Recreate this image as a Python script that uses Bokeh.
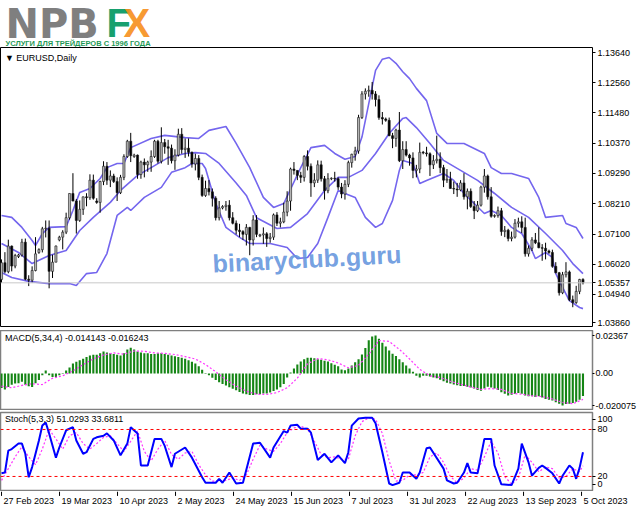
from bokeh.plotting import figure
from bokeh.layouts import column, row
from bokeh.models import FixedTicker, Range1d, Span, Label, ColumnDataSource
from bokeh.embed import file_html
from bokeh.resources import INLINE
from bokeh.core.properties import value

# ---------------- data ----------------
opens = [
1.0548,1.0608,1.0576,1.0668,1.0596,1.0630,1.0636,1.0682,1.0549,1.0545,
1.0580,1.0645,1.0655,1.0730,1.0732,1.0577,1.0610,1.0690,1.0700,1.0718,
1.0770,1.0857,1.0830,1.0760,1.0800,1.0845,1.0842,1.0905,1.0830,1.0825,
1.0900,1.0955,1.0905,1.0920,1.0900,1.0860,1.0915,1.0990,1.1045,1.0990,
1.0995,1.0925,1.0970,1.0960,1.0970,1.0990,1.1045,1.0973,1.1040,1.1025,
1.1020,1.0975,1.0995,1.1070,1.1015,1.1020,1.1005,1.0963,1.0983,1.0915,
1.0850,1.0875,1.0863,1.0840,1.0770,1.0805,1.0810,1.0815,1.0770,1.0750,
1.0725,1.0720,1.0710,1.0735,1.0690,1.0762,1.0705,1.0708,1.0712,1.0695,
1.0700,1.0780,1.0750,1.0755,1.0790,1.0830,1.0945,1.0940,1.0922,1.0915,
1.0990,1.0955,1.0895,1.0905,1.0960,1.0910,1.0867,1.0910,1.0912,1.0910,
1.0880,1.0855,1.0890,1.0968,1.0998,1.1010,1.1130,1.1215,1.1225,1.1228,
1.1215,1.1195,1.1130,1.1125,1.1120,1.1065,1.1055,1.1085,1.0975,1.1015,
1.0995,1.0985,1.0940,1.0945,1.1005,1.1003,1.1000,1.0960,1.0975,1.0980,
1.0950,1.0905,1.0908,1.0875,1.0873,1.0870,1.0895,1.0845,1.0865,1.0810,
1.0795,1.0815,1.0880,1.0920,1.0845,1.0775,1.0778,1.0795,1.0720,1.0725,
1.0695,1.0700,1.0750,1.0755,1.0735,1.0640,1.0660,1.0690,1.0680,1.0662,
1.0660,1.0650,1.0645,1.0595,1.0572,1.0500,1.0565,1.0575,1.0475,1.0465,
1.0505,1.0548]
highs = [
1.0620,1.0646,1.0691,1.0670,1.0640,1.0640,1.0694,1.0695,1.0563,1.0595,
1.0700,1.0660,1.0737,1.0760,1.0760,1.0637,1.0670,1.0705,1.0725,1.0788,
1.0857,1.0930,1.0837,1.0832,1.0846,1.0858,1.0926,1.0925,1.0840,1.0903,
1.0973,1.0970,1.0940,1.0928,1.0915,1.0924,1.0998,1.1050,1.1075,1.1000,
1.0997,1.0975,1.0983,1.0975,1.1012,1.1050,1.1050,1.1095,1.1053,1.1050,
1.1033,1.1016,1.1090,1.1092,1.1055,1.1055,1.1008,1.1000,1.0995,1.0925,
1.0903,1.0905,1.0875,1.0847,1.0830,1.0815,1.0830,1.0833,1.0790,1.0760,
1.0748,1.0725,1.0747,1.0737,1.0779,1.0779,1.0712,1.0735,1.0718,1.0715,
1.0785,1.0790,1.0770,1.0824,1.0865,1.0950,1.0970,1.0940,1.0935,1.0995,
1.1012,1.0965,1.0930,1.0976,1.0975,1.0920,1.0930,1.0915,1.0935,1.0915,
1.0895,1.0905,1.0975,1.1000,1.1025,1.1140,1.1225,1.1235,1.1245,1.1258,
1.1225,1.1210,1.1150,1.1130,1.1130,1.1075,1.1090,1.1150,1.1045,1.1045,
1.1000,1.1005,1.0960,1.1040,1.1010,1.1025,1.1005,1.0995,1.1065,1.1005,
1.0960,1.0945,1.0935,1.0900,1.0895,1.0905,1.0930,1.0875,1.0875,1.0830,
1.0830,1.0885,1.0945,1.0925,1.0880,1.0782,1.0810,1.0805,1.0740,1.0730,
1.0720,1.0765,1.0770,1.0775,1.0770,1.0670,1.0700,1.0715,1.0735,1.0675,
1.0680,1.0655,1.0655,1.0610,1.0575,1.0575,1.0610,1.0580,1.0490,1.0525,
1.0550,1.0552]
lows = [
1.0535,1.0570,1.0570,1.0577,1.0588,1.0625,1.0630,1.0545,1.0524,1.0537,
1.0577,1.0640,1.0645,1.0699,1.0516,1.0553,1.0610,1.0685,1.0656,1.0711,
1.0763,1.0829,1.0713,1.0755,1.0780,1.0811,1.0834,1.0835,1.0820,1.0788,
1.0887,1.0888,1.0880,1.0895,1.0830,1.0855,1.0905,1.0985,1.0970,1.0985,
1.0910,1.0910,1.0915,1.0935,1.0935,1.0985,1.0965,1.0965,1.1000,1.0960,
1.0965,1.0942,1.0990,1.1000,1.0985,1.0990,1.0950,1.0940,1.0905,1.0845,
1.0845,1.0850,1.0810,1.0760,1.0760,1.0800,1.0795,1.0760,1.0746,1.0710,
1.0700,1.0690,1.0670,1.0635,1.0670,1.0700,1.0700,1.0676,1.0665,1.0680,
1.0690,1.0740,1.0735,1.0750,1.0775,1.0795,1.0925,1.0905,1.0895,1.0900,
1.0940,1.0845,1.0880,1.0895,1.0900,1.0835,1.0858,1.0905,1.0900,1.0870,
1.0840,1.0835,1.0880,1.0950,1.0975,1.1000,1.1125,1.1195,1.1205,1.1195,
1.1170,1.1122,1.1105,1.1115,1.1063,1.1020,1.1025,1.0970,1.0945,1.0990,
1.0957,1.0912,1.0915,1.0930,1.0998,1.0990,1.0920,1.0945,1.0965,1.0930,
1.0880,1.0895,1.0875,1.0855,1.0845,1.0865,1.0835,1.0800,1.0805,1.0765,
1.0790,1.0810,1.0860,1.0835,1.0770,1.0770,1.0770,1.0705,1.0700,1.0685,
1.0685,1.0695,1.0735,1.0715,1.0630,1.0630,1.0650,1.0675,1.0660,1.0615,
1.0620,1.0640,1.0590,1.0570,1.0490,1.0495,1.0555,1.0470,1.0448,1.0460,
1.0495,1.0530]
closes = [
1.0608,1.0576,1.0668,1.0596,1.0634,1.0636,1.0682,1.0549,1.0545,1.0580,
1.0640,1.0655,1.0730,1.0732,1.0577,1.0610,1.0668,1.0700,1.0718,1.0770,
1.0857,1.0830,1.0760,1.0800,1.0845,1.0842,1.0905,1.0840,1.0825,1.0900,
1.0955,1.0905,1.0920,1.0900,1.0860,1.0915,1.0990,1.1045,1.0993,1.0995,
1.0925,1.0970,1.0960,1.0970,1.0990,1.1045,1.0973,1.1040,1.1025,1.1020,
1.0975,1.0995,1.1070,1.1015,1.1020,1.1005,1.0963,1.0983,1.0915,1.0850,
1.0875,1.0863,1.0840,1.0770,1.0805,1.0810,1.0815,1.0770,1.0750,1.0725,
1.0720,1.0710,1.0735,1.0690,1.0762,1.0710,1.0708,1.0712,1.0695,1.0700,
1.0780,1.0750,1.0755,1.0790,1.0830,1.0945,1.0940,1.0922,1.0915,1.0990,
1.0955,1.0895,1.0905,1.0960,1.0910,1.0867,1.0910,1.0912,1.0910,1.0880,
1.0855,1.0890,1.0968,1.0998,1.1010,1.1130,1.1215,1.1225,1.1228,1.1215,
1.1195,1.1130,1.1125,1.1120,1.1065,1.1055,1.1085,1.0975,1.1015,1.0995,
1.0985,1.0940,1.0945,1.1005,1.1003,1.1000,1.0960,1.0975,1.0980,1.0950,
1.0905,1.0908,1.0875,1.0873,1.0870,1.0895,1.0845,1.0865,1.0810,1.0795,
1.0815,1.0880,1.0920,1.0845,1.0775,1.0778,1.0795,1.0720,1.0725,1.0695,
1.0700,1.0750,1.0755,1.0735,1.0640,1.0660,1.0690,1.0680,1.0662,1.0660,
1.0650,1.0645,1.0595,1.0572,1.0500,1.0565,1.0575,1.0475,1.0465,1.0505,
1.0548,1.05357]

# Bollinger bands (bar index, price)
upper_x = [0,3,6,9,10,12,14,19,21,23,26,29,31,34,36,38,44,48,54,58,61,66,69,73,77,80,83,88,91,95,98,
           101,104,106,108,110,112,114,116,118,120,122,125,128,131,136,142,144,147,150,155,158,160,165,
           166,169,171]
upper_y = [1.0778,1.0771,1.0735,1.0688,1.0670,1.0713,1.0735,1.0738,1.0796,1.0861,1.0875,1.0911,1.0950,
           1.0965,1.0965,1.1022,1.1055,1.1066,1.1058,1.1055,1.1084,1.1098,1.1037,1.0950,1.0843,1.0807,
           1.0821,1.0950,1.1022,1.1030,1.1001,1.0980,1.0990,1.1060,1.1180,1.1300,1.1340,1.1346,1.1325,
           1.1295,1.1270,1.1235,1.1191,1.1073,1.1037,1.1037,1.1001,1.0950,1.0929,1.0929,1.0911,1.0843,
           1.0771,1.0778,1.0749,1.0735,1.0695]
middle_x = [0,5,9,14,19,23,27,32,35,40,44,49,54,57,60,64,69,72,75,81,85,90,95,99,102,106,110,114,118,
            119,122,126,130,135,140,145,150,155,160,165,168,171]
middle_y = [1.0677,1.0645,1.0605,1.0634,1.0652,1.0724,1.0771,1.0825,1.0868,1.0922,1.0950,1.0986,1.1001,
            1.1004,1.1001,1.0965,1.0895,1.0850,1.0770,1.0731,1.0735,1.0785,1.0868,1.0915,1.0915,1.0940,
            1.1001,1.1073,1.1127,1.1130,1.1094,1.1037,1.0976,1.0940,1.0904,1.0857,1.0807,1.0771,1.0713,
            1.0652,1.0605,1.0569]
lower_x = [0,3,8,14,20,22,25,28,31,34,37,38,42,47,50,54,56,59,60,63,66,70,73,79,84,87,90,93,96,99,
           101,104,107,110,112,115,117,118,121,123,125,130,133,136,139,142,144,147,150,153,156,157,160,
           162,163,165,167,170,171]
lower_y = [1.0573,1.0555,1.0541,1.0533,1.0533,1.0526,1.0569,1.0573,1.0641,1.0778,1.0807,1.0796,1.0843,
           1.0879,1.0933,1.0950,1.0965,1.0965,1.0947,1.0821,1.0735,1.0699,1.0677,1.0677,1.0663,1.0623,
           1.0627,1.0677,1.0771,1.0868,1.0857,1.0843,1.0771,1.0735,1.0749,1.0832,1.0940,1.0976,1.0965,
           1.0893,1.0904,1.0929,1.0904,1.0857,1.0821,1.0785,1.0796,1.0778,1.0735,1.0713,1.0652,1.0623,
           1.0645,1.0627,1.0569,1.0519,1.0472,1.0447,1.0443]

# MACD(5,34,4) histogram, one value per bar
macd_main = [
-0.0091,-0.0101,-0.0085,-0.0071,-0.0063,-0.0061,-0.0052,-0.0071,-0.0081,-0.0085,
-0.0061,-0.0041,-0.0012,0.0018,-0.0012,-0.0022,-0.0022,-0.0012,0.0003,0.0018,
0.0037,0.0062,0.0072,0.0082,0.0092,0.0102,0.0112,0.0117,0.0117,0.0126,
0.0136,0.0131,0.0126,0.0121,0.0117,0.0112,0.0126,0.0150,0.0160,0.0150,
0.0136,0.0131,0.0126,0.0126,0.0121,0.0121,0.0126,0.0126,0.0121,0.0117,
0.0112,0.0107,0.0102,0.0097,0.0092,0.0082,0.0072,0.0062,0.0045,0.0022,
0.0003,-0.0012,-0.0027,-0.0041,-0.0056,-0.0066,-0.0076,-0.0086,-0.0096,-0.0106,
-0.0116,-0.0125,-0.0130,-0.0135,-0.0135,-0.0130,-0.0130,-0.0125,-0.0125,-0.0120,
-0.0110,-0.0100,-0.0086,-0.0066,-0.0025,0.0005,0.0030,0.0055,0.0075,0.0089,
0.0098,0.0098,0.0094,0.0089,0.0085,0.0079,0.0074,0.0064,0.0054,0.0044,
0.0025,0.0020,0.0030,0.0049,0.0069,0.0089,0.0118,0.0158,0.0207,0.0231,
0.02367,0.0217,0.0192,0.0168,0.0143,0.0123,0.0108,0.0089,0.0069,0.0049,
0.0030,0.0010,-0.0015,-0.0025,-0.0015,-0.0015,-0.0020,-0.0025,-0.0030,-0.0040,
-0.0049,-0.0059,-0.0064,-0.0069,-0.0074,-0.0079,-0.0079,-0.0084,-0.0089,-0.0094,
-0.0104,-0.0109,-0.0094,-0.0084,-0.0089,-0.0094,-0.0104,-0.0118,-0.0128,-0.0138,
-0.0133,-0.0128,-0.0123,-0.0128,-0.0138,-0.0143,-0.0143,-0.0148,-0.0143,-0.0150,
-0.0160,-0.0165,-0.0170,-0.0180,-0.0190,-0.020075,-0.0192,-0.0190,-0.0185,-0.0178,
-0.0165,-0.014143]
macd_sig_x = [0,3,6,9,12,15,18,21,24,27,30,33,36,39,42,45,48,51,54,57,60,63,66,69,72,75,78,81,84,87,
              90,93,96,99,102,105,108,111,114,117,120,123,126,129,132,135,138,141,144,147,150,153,156,
              159,162,165,168,171]
macd_sig_y = [-0.0080,-0.0090,-0.0075,-0.0065,-0.0070,-0.0030,-0.0015,0.0015,0.0055,0.0090,0.0115,0.0128,
              0.0120,0.0140,0.0138,0.0128,0.0125,0.0118,0.0105,0.0090,0.0055,0.0010,-0.0040,-0.0080,
              -0.0112,-0.0130,-0.0132,-0.0120,-0.0090,-0.0030,0.0060,0.0092,0.0085,0.0065,0.0035,0.0050,
              0.0120,0.0205,0.0200,0.0150,0.0090,0.0025,-0.0015,-0.0025,-0.0050,-0.0068,-0.0085,-0.0100,
              -0.0095,-0.0100,-0.0125,-0.0130,-0.0140,-0.0145,-0.0160,-0.0182,-0.0190,-0.016243]

# Stochastic(5,3,3)
stoch_x = [0,1,2,3,5,6,7,8,9,11,12,13,14,16,17,19,21,22,24,25,27,28,30,31,33,35,37,38,40,41,43,45,47,
           48,50,51,54,56,59,60,63,64,65,67,69,71,74,76,79,80,83,84,85,87,88,90,91,93,95,97,99,101,102,
           103,105,107,109,110,112,114,115,117,118,120,122,123,125,126,130,131,133,134,136,137,138,140,
           142,144,145,147,150,152,153,155,156,158,159,160,162,164,165,167,168,169,170,171]
stoch_y = [24,25,53,55,62,62,49,19,32,66,85,89,75,44,57,79,83,66,49,51,68,70,72,75,66,47,62,83,75,34,34,
           68,68,59,32,49,57,44,19,12,12,17,12,25,11,12,62,63,44,57,78,76,85,86,81,81,76,41,49,38,47,37,
           51,85,94,95,95,88,51,11,9,12,25,25,17,25,56,57,30,15,11,12,25,37,25,24,68,68,34,10,9,30,62,38,
           21,31,34,31,24,11,21,34,30,17,31,51.0293]
stoch_sig_x = [0,2,4,6,8,10,12,14,16,18,20,22,24,26,28,30,32,34,36,38,40,42,44,46,48,50,52,54,56,58,60,
               62,64,66,68,70,72,74,76,78,80,82,84,86,88,90,92,94,96,98,100,102,104,106,108,110,112,114,
               116,118,120,122,124,126,128,130,132,134,136,138,140,142,144,146,148,150,152,154,156,158,
               160,162,164,166,168,170,171]
stoch_sig_y = [15,30,45,58,45,35,55,80,68,55,72,76,62,55,62,70,72,62,52,65,78,52,40,55,66,48,42,50,52,35,
               22,14,14,15,18,15,22,42,60,55,52,62,76,82,84,81,65,48,44,45,42,42,72,90,95,93,75,40,14,15,
               22,22,25,45,50,38,20,12,18,30,28,45,65,50,20,10,18,48,38,26,32,30,18,20,30,26,33.6811]

price_ticks = [1.1364, 1.1256, 1.1148, 1.1037, 1.0929, 1.0821, 1.0710, 1.0602, 1.05357, 1.0494, 1.03915]
price_labels = ["1.13640", "1.12560", "1.11480", "1.10370", "1.09290", "1.08210", "1.07100",
                "1.06020", "1.05357", "1.04940", "1.03860"]
macd_ticks = [0.02367, 0.0, -0.020075]
macd_labels = ["0.02367", "0.00", "-0.020075"]
stoch_ticks = [92.8, 80, 20, 9.8]
stoch_labels = ["100", "80", "20", "0"]
date_ticks = [0, 17, 34, 51, 68, 85, 102, 119, 136, 153, 170]
date_labels = ["27 Feb 2023", "19 Mar 2023", "10 Apr 2023", "2 May 2023", "24 May 2023", "15 Jun 2023",
               "7 Jul 2023", "31 Jul 2023", "22 Aug 2023", "13 Sep 2023", "5 Oct 2023"]

n = len(closes)
assert len(opens) == n and len(highs) == n and len(lows) == n and len(macd_main) == n
assert len(stoch_x) == len(stoch_y) and len(stoch_sig_x) == len(stoch_sig_y)
assert len(upper_x) == len(upper_y) and len(middle_x) == len(middle_y) and len(lower_x) == len(lower_y)
assert len(macd_sig_x) == len(macd_sig_y)

# ---------------- styling ----------------
W = 639
RB = 45
FW = W - RB
FONT = "Liberation Sans"
BAND = "#7466ee"
xr = Range1d(-0.3, 173.8)


def style_axis(ax, ticks, labels, tick_out=3, standoff=2):
    ax.ticker = FixedTicker(ticks=ticks)
    ax.major_label_overrides = {t: l for t, l in zip(ticks, labels)}
    ax.major_label_text_font = FONT
    ax.major_label_text_font_size = "9px"
    ax.major_label_text_color = "#000000"
    ax.major_tick_in = 0
    ax.major_tick_out = tick_out
    ax.major_tick_line_color = "#000000"
    ax.minor_tick_line_color = None
    ax.axis_line_color = None
    ax.major_label_standoff = standoff


def panel(frame_h, yr, top=0):
    p = figure(width=W, frame_height=frame_h, x_range=xr, y_range=yr, output_backend="svg",
               toolbar_location=None, x_axis_location=None, y_axis_location="right",
               min_border_left=0, min_border_right=RB, min_border_top=top, min_border_bottom=0)
    p.xgrid.visible = False
    p.ygrid.visible = False
    p.background_fill_color = "#ffffff"
    p.border_fill_color = "#ffffff"
    return p


def blank(h, xrange, yrange, right=0):
    p = figure(width=W, height=h, x_range=xrange, y_range=yrange, output_backend="svg",
               toolbar_location=None, x_axis_location=None, y_axis_location=None,
               min_border_left=0, min_border_right=right, min_border_top=0, min_border_bottom=0)
    p.outline_line_color = None
    p.xgrid.visible = False
    p.ygrid.visible = False
    return p


# ---- logo (pixel coordinates, y measured upwards from the logo's bottom edge) ----
logo = blank(47, Range1d(0, W), Range1d(0, 47))
logo.text(x=[5], y=[46.8], text=["NPB"], text_font=value("DejaVu Sans"), text_font_style="bold",
          text_font_size="40px", text_color="#7f7f7f", text_baseline="top")
logo.text(x=[106], y=[46.5], text=["F"], text_font=value(FONT), text_font_style="bold",
          text_font_size="40px", text_color="#17a06e", text_baseline="top")
logo.text(x=[123], y=[46.5], text=["X"], text_font=value(FONT), text_font_style="bold",
          text_font_size="40px", text_color="#f7901e", text_baseline="top", text_alpha=0.93)
logo.text(x=[5], y=[9.0], text=["УСЛУГИ ДЛЯ ТРЕЙДЕРОВ С 1996 ГОДА"],
          text_font=value(FONT), text_font_style="bold", text_font_size="7.5px",
          text_color="#1f9a57", text_baseline="top")

# ---- main price panel ----
main = panel(280, Range1d(1.03751, 1.13820))
main.outline_line_color = "#000000"
style_axis(main.yaxis[0], price_ticks, price_labels)

idx = list(range(n))
body_top = [max(o, c) for o, c in zip(opens, closes)]
body_bot = [min(o, c) for o, c in zip(opens, closes)]
body_col = ["#b4b4b4" if c >= o else "#000000" for o, c in zip(opens, closes)]
src = ColumnDataSource(dict(x=idx, h=highs, l=lows, t=body_top, b=body_bot, col=body_col))

main.add_layout(Span(location=closes[-1], dimension="width", line_color="#c8c8c8", line_width=1))
main.line(upper_x, upper_y, line_color=BAND, line_width=1.6)
main.line(middle_x, middle_y, line_color=BAND, line_width=1.6)
main.line(lower_x, lower_y, line_color=BAND, line_width=1.6)
main.segment(x0="x", y0="l", x1="x", y1="h", source=src, line_color="#000000", line_width=1)
main.vbar(x="x", top="t", bottom="b", width=0.62, source=src, fill_color="col",
          line_color="#1a1a1a", line_width=0.6)

main.add_layout(Label(x=1.0, y=1.1362, text="▼ EURUSD,Daily", text_font=FONT,
                      text_font_size="9px", text_color="#000000", text_baseline="top"))
main.add_layout(Label(x=89.8, y=1.0622, text="binaryclub.guru", text_font=FONT,
                      text_font_style="bold", text_font_size="25px", text_color="#6495dd",
                      text_alpha=0.9, text_align="center", text_baseline="middle", angle=0.05))

# ---- separator between price and MACD panels ----
sep = blank(3, Range1d(0, 1), Range1d(0, 1), right=RB)
sep.background_fill_color = "#808080"

# ---- MACD panel ----
macd = panel(80, Range1d(-0.0232, 0.0268))
macd.outline_line_color = "#7f7f7f"
macd.outline_line_width = 1.5
style_axis(macd.yaxis[0], macd_ticks, macd_labels, tick_out=2, standoff=1)
macd.vbar(x=idx, top=macd_main, bottom=0, width=0.62, fill_color="#158515", line_color=None)
macd.line(macd_sig_x, macd_sig_y, line_color="#ff33ff", line_width=1.2, line_dash="2 2")
macd.add_layout(Label(x=1.0, y=0.0252, text="MACD(5,34,4) -0.014143 -0.016243", text_font=FONT,
                      text_font_size="9px", text_color="#000000", text_baseline="top"))

# ---- Stochastic panel ----
stoch = panel(79, Range1d(0.8, 101.7), top=2)
stoch.outline_line_color = "#7f7f7f"
stoch.outline_line_width = 1.5
style_axis(stoch.yaxis[0], stoch_ticks, stoch_labels)
stoch.add_layout(Span(location=80, dimension="width", line_color="#ff0000", line_width=1,
                      line_dash="3 3"))
stoch.add_layout(Span(location=20, dimension="width", line_color="#ff0000", line_width=1,
                      line_dash="3 3"))
stoch.line(stoch_sig_x, stoch_sig_y, line_color="#ff33ff", line_width=1.2, line_dash="2 2")
stoch.line(stoch_x, stoch_y, line_color="#0000ff", line_width=2)
stoch.add_layout(Label(x=1.0, y=99.5, text="Stoch(5,3,3) 51.0293 33.6811", text_font=FONT,
                       text_font_size="9px", text_color="#000000", text_baseline="top"))

# ---- date axis (ticks + left-aligned labels, MT4 style) ----
units_per_px = (xr.end - xr.start) / FW
dates = blank(17, Range1d(xr.start, xr.start + units_per_px * W), Range1d(0, 1))
nt = len(date_ticks)
dates.segment(x0=date_ticks, y0=[1.0] * nt, x1=date_ticks, y1=[0.74] * nt,
              line_color="#000000", line_width=1)
dates.text(x=date_ticks, y=[0.45] * nt, text=date_labels, text_font=value(FONT),
           text_font_size="9px", text_color="#000000", text_align="left", text_baseline="middle",
           x_offset=2)

layout = column(row(logo), main, sep, macd, stoch, row(dates), spacing=0)
open("out.html", "w").write(file_html(layout, INLINE))
